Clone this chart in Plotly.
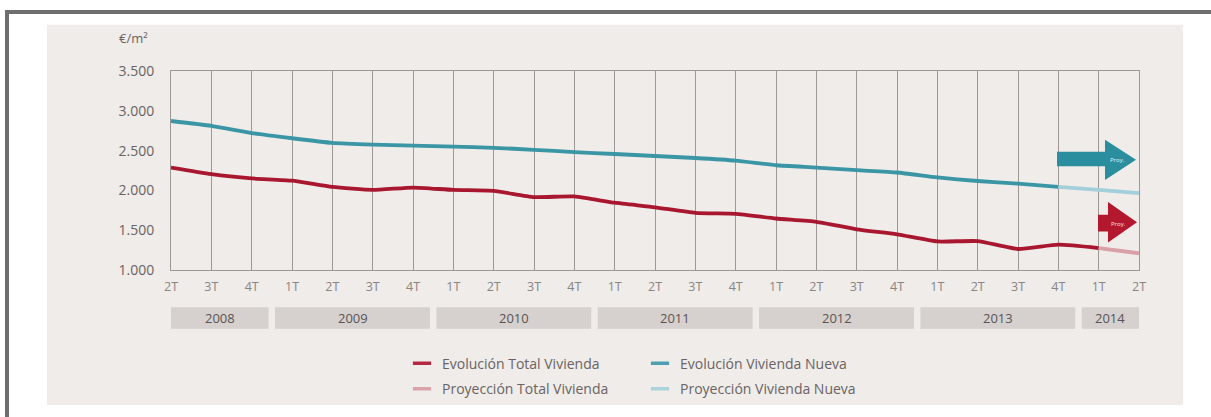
import plotly.graph_objects as go

# ---------------- data ----------------
quarters = ["2T", "3T", "4T",
            "1T", "2T", "3T", "4T",
            "1T", "2T", "3T", "4T",
            "1T", "2T", "3T", "4T",
            "1T", "2T", "3T", "4T",
            "1T", "2T", "3T", "4T",
            "1T", "2T"]
years = ["2008", "2009", "2010", "2011", "2012", "2013", "2014"]
quarters_in_year = [3, 4, 4, 4, 4, 4, 2]

# Evolución Total Vivienda (2T 2008 .. 1T 2014)
evol_total = [2287, 2204, 2151, 2122, 2043, 2006, 2036, 2006, 1994, 1916, 1924,
              1845, 1788, 1718, 1705, 1647, 1606, 1511, 1449, 1359, 1363, 1264,
              1318, 1276]
# Proyección Total Vivienda (1T 2014 .. 2T 2014)
proy_total = [1276, 1210]
# Evolución Vivienda Nueva (2T 2008 .. 4T 2013)
evol_nueva = [2872, 2811, 2720, 2655, 2597, 2575, 2563, 2551, 2535, 2510, 2481,
              2457, 2432, 2407, 2374, 2316, 2287, 2254, 2225, 2163, 2118, 2085,
              2043]
# Proyección Vivienda Nueva (4T 2013 .. 2T 2014)
proy_nueva = [2043, 2006, 1965]

y_ticks = [1000, 1500, 2000, 2500, 3000, 3500]
y_tick_labels = ["1.000", "1.500", "2.000", "2.500", "3.000", "3.500"]

# ---------------- layout helpers ----------------
W, H = 1211, 417
L, R, T, B = 171, 1139, 71, 273   # plot area in pixels


def pxx(x):
    return (x - L) / (R - L)


def pxy(y):
    return (B - y) / (B - T)


RED = "#a8172f"
RED_P = "#d9a0a8"
BLUE = "#3a95a5"
BLUE_P = "#a3cfda"
GRID = "#9d9795"
TXT = "#6a6362"
FONT = "Open Sans"

idx = list(range(len(quarters)))
n_t = len(evol_total)
n_n = len(evol_nueva)

fig = go.Figure()

line_kw = dict(shape="spline", smoothing=0.5)
fig.add_trace(go.Scatter(x=idx[:n_t], y=evol_total, mode="lines",
                         line=dict(color=RED, width=3.8, **line_kw), showlegend=False))
fig.add_trace(go.Scatter(x=idx[n_t - 1:n_t - 1 + len(proy_total)], y=proy_total, mode="lines",
                         line=dict(color=RED_P, width=3.8, **line_kw), showlegend=False))
fig.add_trace(go.Scatter(x=idx[:n_n], y=evol_nueva, mode="lines",
                         line=dict(color=BLUE, width=3.8, **line_kw), showlegend=False))
fig.add_trace(go.Scatter(x=idx[n_n - 1:n_n - 1 + len(proy_nueva)], y=proy_nueva, mode="lines",
                         line=dict(color=BLUE_P, width=3.8, **line_kw), showlegend=False))

# legend entries (short dash markers like the original)
legend_items = [
    ("Evolución Total Vivienda", "#b42a44", "legend"),
    ("Proyección Total Vivienda", "#d8a3aa", "legend2"),
    ("Evolución Vivienda Nueva", "#4f9fb1", "legend3"),
    ("Proyección Vivienda Nueva", "#aad3dd", "legend4"),
]
for name, col, lg in legend_items:
    fig.add_trace(go.Scatter(x=[None], y=[None], mode="markers", name=name, legend=lg,
                             marker=dict(symbol="line-ew", size=13,
                                         line=dict(color=col, width=3.5))))

shapes = []
# beige panel
shapes.append(dict(type="rect", xref="paper", yref="paper", x0=pxx(47), x1=pxx(1183),
                   y0=pxy(410), y1=pxy(24), fillcolor="#efecea", line=dict(width=0),
                   layer="below"))
# frame lines
shapes.append(dict(type="line", xref="paper", yref="paper", x0=pxx(5), x1=pxx(1215),
                   y0=pxy(11), y1=pxy(11), line=dict(color="#6e6e6e", width=4)))
shapes.append(dict(type="line", xref="paper", yref="paper", x0=pxx(7), x1=pxx(7),
                   y0=pxy(9), y1=pxy(425), line=dict(color="#6e6e6e", width=4)))

annotations = []
# year boxes
start = 0
for yr, cnt in zip(years, quarters_in_year):
    first, last = start, start + cnt - 1
    x0 = max(first - 0.42, 0)
    x1 = min(last + 0.42, len(quarters) - 1)
    shapes.append(dict(type="rect", xref="x", yref="paper", x0=x0, x1=x1,
                       y0=pxy(332.7), y1=pxy(310.7), fillcolor="#d6d1cf",
                       line=dict(width=0), layer="below"))
    annotations.append(dict(x=(x0 + x1) / 2, y=pxy(321.7), xref="x", yref="paper",
                            text=yr, showarrow=False, xanchor="center", yanchor="middle",
                            font=dict(family=FONT, size=13, color="#5a5352")))
    start += cnt


# arrows (pixel geometry)
def arrow_path(x0, xb, xt, ys0, ys1, yh0, yh1):
    yc = (yh0 + yh1) / 2
    pts = [(x0, ys0), (xb, ys0), (xb, yh0), (xt, yc), (xb, yh1), (xb, ys1), (x0, ys1)]
    return "M " + " L ".join(f"{pxx(a):.5f},{pxy(b):.5f}" for a, b in pts) + " Z"


shapes.append(dict(type="path", xref="paper", yref="paper",
                   path=arrow_path(1057, 1105, 1136, 153, 167.7, 140.7, 181.7),
                   fillcolor="#2a8e9e", line=dict(width=0)))
shapes.append(dict(type="path", xref="paper", yref="paper",
                   path=arrow_path(1098, 1108, 1137, 217, 234, 204, 245),
                   fillcolor="#b3182f", line=dict(width=0)))
annotations.append(dict(x=pxx(1117), y=pxy(161), xref="paper", yref="paper", text="Proy.",
                        showarrow=False, xanchor="center", yanchor="middle",
                        font=dict(family=FONT, size=6, color="#e8f3f5")))
annotations.append(dict(x=pxx(1118), y=pxy(226), xref="paper", yref="paper", text="Proy.",
                        showarrow=False, xanchor="center", yanchor="middle",
                        font=dict(family=FONT, size=6, color="#f5e4e7")))
# unit label
annotations.append(dict(x=pxx(117), y=pxy(38), xref="paper", yref="paper", text="€/m²",
                        xanchor="left", yanchor="middle", showarrow=False,
                        font=dict(family=FONT, size=13, color=TXT)))

legend_common = dict(orientation="v", bgcolor="rgba(0,0,0,0)", borderwidth=0,
                     font=dict(family=FONT, size=14, color=TXT),
                     xanchor="left", yanchor="middle", itemwidth=30)
fig.update_layout(
    width=W, height=H,
    margin=dict(l=L, r=W - R, t=T, b=H - B, pad=0),
    paper_bgcolor="white",
    plot_bgcolor="rgba(0,0,0,0)",
    shapes=shapes,
    annotations=annotations,
    legend=dict(x=pxx(402), y=pxy(368), **legend_common),
    legend2=dict(x=pxx(402), y=pxy(394), **legend_common),
    legend3=dict(x=pxx(640), y=pxy(368), **legend_common),
    legend4=dict(x=pxx(640), y=pxy(394), **legend_common),
    xaxis=dict(range=[0, len(quarters) - 1], tickmode="array", tickvals=idx,
               ticktext=quarters, showgrid=True, gridcolor=GRID, gridwidth=1,
               showline=True, linecolor=GRID, linewidth=1, mirror=True,
               zeroline=False, ticks="", ticklabelstandoff=5,
               tickfont=dict(family=FONT, size=12.5, color="#8a8483")),
    yaxis=dict(range=[1000, 3500], tickmode="array", tickvals=y_ticks,
               ticktext=y_tick_labels, showgrid=False, zeroline=False,
               showline=True, linecolor=GRID, linewidth=1, mirror=True,
               ticks="", ticklabelstandoff=13,
               tickfont=dict(family=FONT, size=14, color=TXT)),
    showlegend=True,
)

fig.write_html("out.html", config={"displayModeBar": False},
               post_script="document.body.style.margin='0';")
